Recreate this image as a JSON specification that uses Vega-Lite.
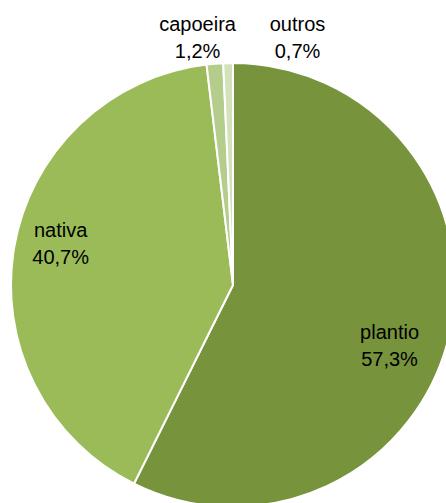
{
  "$schema": "https://vega.github.io/schema/vega-lite/v6.json",
  "width": 466,
  "height": 570,
  "padding": 0,
  "autosize": {"type": "none"},
  "background": "white",
  "config": {"view": {"stroke": null}},
  "data": {
    "values": [
      {"cat": "plantio", "v": 57.3, "o": 1, "label": "plantio\n57,3%"},
      {"cat": "nativa", "v": 40.7, "o": 2, "label": "nativa\n40,7%"},
      {"cat": "capoeira", "v": 1.2, "o": 3, "label": "capoeira\n1,2%"},
      {"cat": "outros", "v": 0.7, "o": 4, "label": "outros\n0,7%"}
    ]
  },
  "encoding": {
    "theta": {"field": "v", "type": "quantitative", "stack": true},
    "order": {"field": "o", "type": "quantitative"}
  },
  "layer": [
    {
      "mark": {"type": "arc", "outerRadius": 222, "stroke": "white", "strokeWidth": 2},
      "encoding": {
        "color": {
          "field": "cat", "type": "nominal",
          "scale": {"domain": ["plantio", "nativa", "capoeira", "outros"], "range": ["#77933c", "#9bbb59", "#b5cd8c", "#d4e2bc"]},
          "legend": null
        }
      }
    },
    {
      "mark": {"type": "text", "radius": 168, "dx": -7, "dy": 10, "font": "Liberation Sans", "fontSize": 20, "lineBreak": "\n", "lineHeight": 27, "color": "black", "baseline": "middle", "align": "center"},
      "encoding": {
        "text": {"condition": {"test": "datum.cat == 'plantio'", "field": "label"}, "value": ""}
      }
    },
    {
      "mark": {"type": "text", "radius": 183, "dx": 8, "dy": -23, "font": "Liberation Sans", "fontSize": 20, "lineBreak": "\n", "lineHeight": 27, "color": "black", "baseline": "middle", "align": "center"},
      "encoding": {
        "text": {"condition": {"test": "datum.cat == 'nativa'", "field": "label"}, "value": ""}
      }
    },
    {
      "mark": {"type": "text", "radius": 250, "dx": -15, "dy": -11, "font": "Liberation Sans", "fontSize": 20, "lineBreak": "\n", "lineHeight": 27, "color": "black", "baseline": "middle", "align": "center"},
      "encoding": {
        "text": {"condition": {"test": "datum.cat == 'capoeira'", "field": "label"}, "value": ""}
      }
    },
    {
      "mark": {"type": "text", "radius": 250, "dx": 70, "dy": -10, "font": "Liberation Sans", "fontSize": 20, "lineBreak": "\n", "lineHeight": 27, "color": "black", "baseline": "middle", "align": "center"},
      "encoding": {
        "text": {"condition": {"test": "datum.cat == 'outros'", "field": "label"}, "value": ""}
      }
    }
  ]
}
